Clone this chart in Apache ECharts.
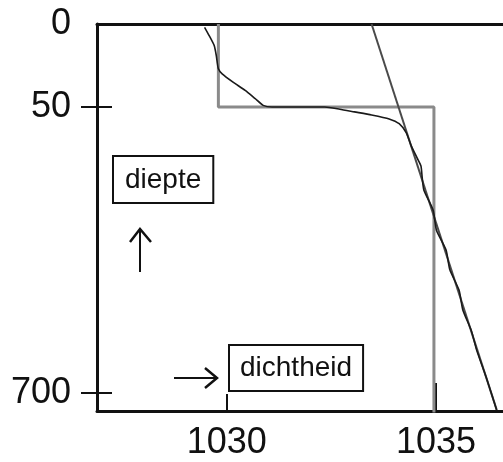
<!DOCTYPE html>
<html>
<head>
<meta charset="utf-8">
<script src="https://cdn.jsdelivr.net/npm/echarts@6/dist/echarts.min.js"></script>
<style>
html,body{margin:0;padding:0;background:#fff;}
#c{width:503px;height:462px;}
</style>
</head>
<body>
<div id="c"></div>
<script>
// ---- data ----
const depthTicks = [0, 50, 700];
const densityTicks = [1030, 1035];

// step profile (gray)
const stepDensity = [1029.8, 1029.8, 1034.95, 1034.95];
const stepDepth   = [0, 50, 50, 745];

// straight reference line
const lineDensity = [1033.46, 1036.45];
const lineDepth   = [0, 738];

// measured profile (black, wiggly)
const profileDensity = [1029.47,1029.58,1029.70,1029.75,1029.80,1029.89,1030.15,1030.44,1030.68,1030.87,1031.08,1032.34,1032.70,1033.05,1033.46,1033.88,1034.12,1034.29,1034.41,1034.55,1034.64,1034.67,1034.71,1034.93,1035.01,1035.24,1035.33,1035.55,1035.64,1035.84,1035.97,1036.22,1036.45];
const profileDepth   = [2,7,13,19,27,30,35,40,45,49,50,50,55,61,68,77,88,109,139,166,184,211,239,284,330,375,420,466,511,557,602,670,739];

// ---- broken depth scale (upper 50 m stretched) ----
const BREAK = 50, SHRINK = 0.2651;
function fwd(d){ return d <= BREAK ? d : BREAK + (d - BREAK) * SHRINK; }
function inv(p){ return p <= BREAK ? p : BREAK + (p - BREAK) / SHRINK; }
function pairs(xs, ds){ return xs.map((x,i)=>[x, fwd(ds[i])]); }

const yTickPos = depthTicks.map(fwd);
const yTickInner = depthTicks.filter(d=>d>0).map(fwd);
const Y_MAX = 233.1;
const X_MIN = 1026.9, X_MAX = 1036.6;
const FONT = 'Liberation Sans, Arial, sans-serif';

const chart = echarts.init(document.getElementById('c'));
chart.setOption({
  backgroundColor:'#fff',
  animation:false,
  grid:{left:97, top:24, right:0, bottom:51, containLabel:false},
  xAxis:[
    {type:'value', position:'bottom', min:X_MIN, max:X_MAX,
     axisLine:{show:true, onZero:false, lineStyle:{color:'#111', width:3}},
     axisTick:{show:true, inside:true, length:17, lineStyle:{color:'#111', width:2}, customValues:[densityTicks[0]]},
     axisLabel:{show:true, customValues:densityTicks, fontSize:36, fontFamily:FONT, color:'#111', margin:14,
       formatter:(v)=>String(Math.round(v))},
     splitLine:{show:false}},
    {type:'value', position:'top', min:X_MIN, max:X_MAX,
     axisLine:{show:true, onZero:false, lineStyle:{color:'#111', width:3}},
     axisTick:{show:false}, axisLabel:{show:false}, splitLine:{show:false}},
    {type:'value', position:'bottom', offset:0, min:X_MIN, max:X_MAX,
     axisLine:{show:false, onZero:false},
     axisTick:{show:true, inside:true, length:28, lineStyle:{color:'#111', width:2}, customValues:[densityTicks[1]]},
     axisLabel:{show:false}, splitLine:{show:false}}
  ],
  yAxis:[
    {type:'value', position:'left', inverse:true, min:0, max:Y_MAX,
     axisLine:{show:true, onZero:false, lineStyle:{color:'#111', width:3}},
     axisTick:{show:true, inside:false, length:16, lineStyle:{color:'#111', width:2}, customValues:yTickInner},
     axisLabel:{show:true, customValues:yTickPos, fontSize:36, fontFamily:FONT, color:'#111', margin:26,
       formatter:(v)=>String(Math.round(inv(v)))},
     splitLine:{show:false}},
    {type:'value', position:'left', offset:0, inverse:true, min:0, max:Y_MAX,
     axisLine:{show:false, onZero:false},
     axisTick:{show:true, inside:true, length:15, lineStyle:{color:'#111', width:2}, customValues:yTickInner},
     axisLabel:{show:false}, splitLine:{show:false}}
  ],
  series:[
    {type:'line', data:pairs(stepDensity, stepDepth), symbol:'none', clip:true,
     lineStyle:{color:'#8a8a8a', width:3}, z:2},
    {type:'line', data:pairs(lineDensity, lineDepth), symbol:'none', clip:true,
     lineStyle:{color:'#4a4a4a', width:2}, z:3},
    {type:'line', data:pairs(profileDensity, profileDepth), symbol:'none', clip:true, smooth:0.2,
     lineStyle:{color:'#1a1a1a', width:1.6}, z:4}
  ],
  graphic:[
    {type:'text', left:112, top:155, z:10,
     style:{text:'diepte', font:'28px '+FONT, fill:'#111', padding:[9,11,8,11],
            borderColor:'#111', borderWidth:2, backgroundColor:'#fff'}},
    {type:'text', left:228, top:344, z:10,
     style:{text:'dichtheid', font:'28px '+FONT, fill:'#111', padding:[8,10,8,10],
            borderColor:'#111', borderWidth:2, backgroundColor:'#fff'}},
    {type:'polyline', z:10, shape:{points:[[140,272],[140,229]]}, style:{stroke:'#111', lineWidth:2, fill:null}},
    {type:'polyline', z:10, shape:{points:[[130,242],[140,229],[151,242]]}, style:{stroke:'#111', lineWidth:2.5, fill:null}},
    {type:'polyline', z:10, shape:{points:[[174,378],[217,378]]}, style:{stroke:'#111', lineWidth:2, fill:null}},
    {type:'polyline', z:10, shape:{points:[[205,368],[217,378],[205,388]]}, style:{stroke:'#111', lineWidth:2.5, fill:null}}
  ]
});
</script>
</body>
</html>
